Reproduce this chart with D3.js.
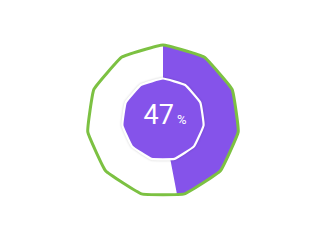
<!DOCTYPE html>
<html>
<head>
<meta charset="utf-8">
<script src="https://cdn.jsdelivr.net/npm/d3@7"></script>
<style>
  html, body { margin: 0; padding: 0; background: #fff; }
  .chart { width: 325px; height: 240px; }
</style>
</head>
<body>
<div class="chart"></div>
<script>
const percentValue = [47];
const percentLabel = ['47', '%'];
const sideCount = [11];

const svg = d3.select('.chart')
  .append('svg')
  .attr('width', 325)
  .attr('height', 240);

const center = { x: 163, y: 121 };

// share of the whole -> angle, 0 at the top, clockwise
const angleScale = d3.scaleLinear()
  .domain([0, 100])
  .range([0, 2 * Math.PI]);

function polygonPoints(radius) {
  const n = sideCount[0];
  return d3.range(n).map(i => {
    const a = i * 2 * Math.PI / n;
    return [radius * Math.sin(a), -radius * Math.cos(a)];
  });
}

// slightly softened corners, like the drawing
const line = d3.line().curve(d3.curveCardinalClosed.tension(0.72));

const mainG = svg.append('g')
  .attr('transform', `translate(${center.x}, ${center.y})`);

mainG.append('clipPath')
  .attr('id', 'outer-clip')
  .append('path')
  .attr('d', line(polygonPoints(76)));

// white background of the ring
mainG.append('path')
  .attr('d', line(polygonPoints(76)))
  .style('fill', '#fff');

const arc = d3.arc()
  .innerRadius(0)
  .outerRadius(120);

mainG.selectAll('.slice')
  .data(percentValue)
  .enter()
  .append('path')
  .classed('slice', true)
  .attr('clip-path', 'url(#outer-clip)')
  .attr('d', d => arc({ startAngle: angleScale(0), endAngle: angleScale(d) }))
  .style('fill', '#8553ea');

mainG.append('path')
  .attr('d', line(polygonPoints(76)))
  .style('fill', 'none')
  .style('stroke', '#7cc142')
  .style('stroke-width', 3)
  .style('stroke-linejoin', 'round');

const innerG = mainG.append('g')
  .attr('transform', 'translate(0, -1.5)');

innerG.append('path')
  .attr('d', line(polygonPoints(41)))
  .style('fill', '#8553ea')
  .style('stroke', '#fff')
  .style('stroke-width', 2.2)
  .style('stroke-linejoin', 'round')
  .style('filter', 'drop-shadow(0 0 1px rgba(0,0,0,0.18))');

const label = innerG.append('text')
  .attr('x', 2)
  .attr('y', 4)
  .attr('text-anchor', 'middle')
  .style('fill', '#fff')
  .style('font-family', 'Roboto, "Open Sans", sans-serif')
  .style('font-weight', 400);

label.append('tspan')
  .style('font-size', '27px')
  .text(percentLabel[0]);

label.append('tspan')
  .attr('dx', 3)
  .style('font-size', '13px')
  .text(percentLabel[1]);
</script>
</body>
</html>
